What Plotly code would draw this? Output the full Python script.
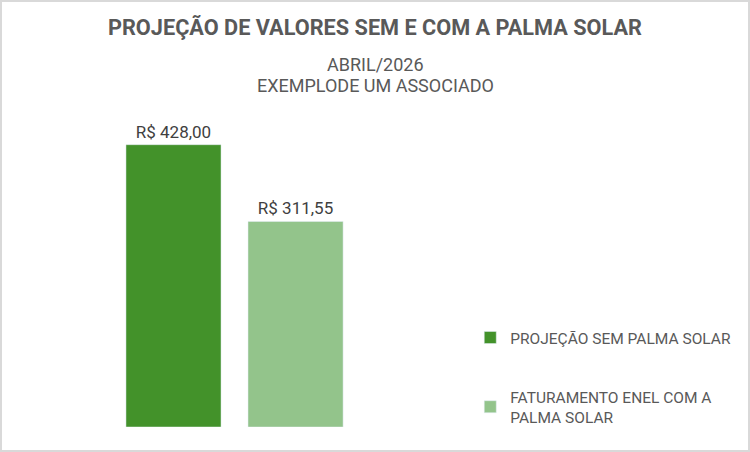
import plotly.graph_objects as go

categories = [""]
series_names = ["PROJEÇÃO SEM PALMA SOLAR", "FATURAMENTO ENEL COM A<br>PALMA SOLAR"]
series_values = [[428.00], [311.55]]
colors = ["#43922A", "#93C48B"]

FONT = "Roboto, Arial, sans-serif"

fig = go.Figure()
for i, (name, vals) in enumerate(zip(series_names, series_values)):
    fig.add_trace(go.Bar(
        x=categories, y=vals, name=name, marker_color=colors[i],
        texttemplate="R$ %{y:.2f}", textposition="outside",
        textfont=dict(size=17, color="#404040", family=FONT),
        cliponaxis=False, legendgroup=f"g{i}",
    ))

fig.update_layout(
    width=750, height=452,
    margin=dict(l=0, r=0, t=0, b=0),
    paper_bgcolor="white", plot_bgcolor="white",
    separators=",.",
    barmode="group", bargap=0.431, bargroupgap=0.221,
    xaxis=dict(domain=[0.0267, 0.5987], visible=False),
    yaxis=dict(domain=[0.0553, 0.712], range=[0, 450], visible=False),
    showlegend=True,
    legend=dict(x=0.627, y=0.29, xanchor="left", yanchor="top",
                font=dict(size=15.5, color="#595959", family=FONT),
                tracegroupgap=36, itemwidth=30, bgcolor="rgba(0,0,0,0)"),
    font=dict(family=FONT),
    annotations=[
        dict(text="<b>PROJEÇÃO DE VALORES SEM E COM A PALMA SOLAR</b>", x=0.5, y=1 - 28 / 452,
             xref="paper", yref="paper", showarrow=False, xanchor="center", yanchor="middle",
             font=dict(size=21.7, color="#595959", family=FONT)),
        dict(text="ABRIL/2026", x=0.5, y=1 - 64 / 452,
             xref="paper", yref="paper", showarrow=False, xanchor="center", yanchor="middle",
             font=dict(size=18, color="#595959", family=FONT)),
        dict(text="EXEMPLODE UM ASSOCIADO", x=0.5, y=1 - 86 / 452,
             xref="paper", yref="paper", showarrow=False, xanchor="center", yanchor="middle",
             font=dict(size=18, color="#595959", family=FONT)),
    ],
    shapes=[dict(type="rect", xref="paper", yref="paper", x0=0, y0=0, x1=1, y1=1,
                 line=dict(color="#D9D9D9", width=4))],
)

fig.write_html("out.html", config={"displayModeBar": False},
               post_script="document.body.style.margin='0';document.body.style.overflow='hidden';")
